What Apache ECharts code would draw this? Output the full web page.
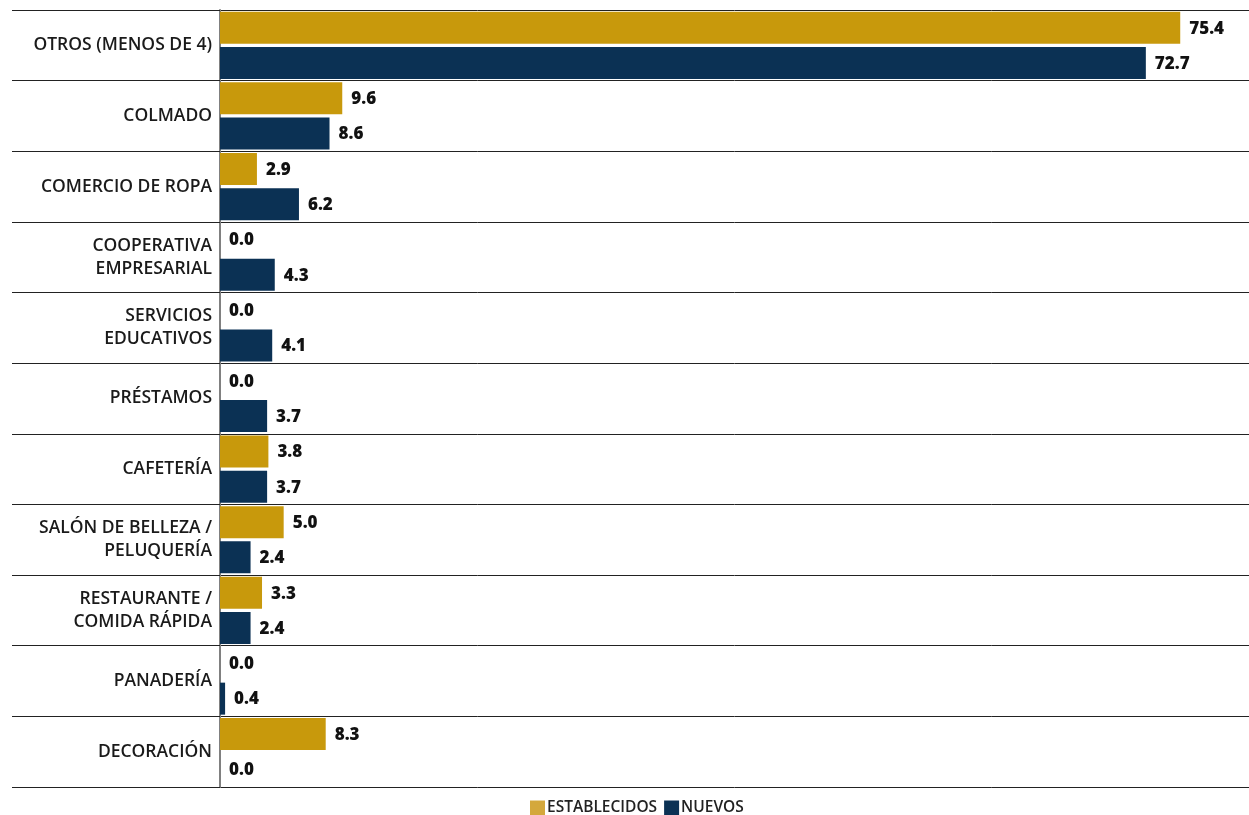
<!DOCTYPE html>
<html>
<head>
<meta charset="utf-8">
<script src="https://cdn.jsdelivr.net/npm/echarts@6/dist/echarts.min.js"></script>
<style>
  html, body { margin: 0; padding: 0; background: #fff; }
  #main { width: 1249px; height: 815px; }
</style>
</head>
<body>
<div id="main"></div>
<script>
// categorías (de arriba hacia abajo)
const categorias = [
  'OTROS (MENOS DE 4)',
  'COLMADO',
  'COMERCIO DE ROPA',
  'COOPERATIVA\nEMPRESARIAL',
  'SERVICIOS\nEDUCATIVOS',
  'PRÉSTAMOS',
  'CAFETERÍA',
  'SALÓN DE BELLEZA /\nPELUQUERÍA',
  'RESTAURANTE /\nCOMIDA RÁPIDA',
  'PANADERÍA',
  'DECORACIÓN'
];
// valores por serie
const establecidos = [75.4, 9.6, 2.9, 0.0, 0.0, 0.0, 3.8, 5.0, 3.3, 0.0, 8.3];
const nuevos = [72.7, 8.6, 6.2, 4.3, 4.1, 3.7, 3.7, 2.4, 2.4, 0.4, 0.0];

const oro = '#C8990C';
const azul = '#0B3154';

let myChart = echarts.init(document.getElementById('main'));

function etiqueta() {
  return {
    show: true,
    position: 'right',
    distance: 9,
    offset: [0, 1],
    color: '#111',
    fontFamily: 'Open Sans',
    fontWeight: 800,
    fontSize: 17,
    formatter: p => Number(p.value).toFixed(1)
  };
}

let option = {
  animation: false,
  grid: { left: 220, right: 0, top: 10, bottom: 28 },
  legend: {
    top: 800,
    left: 530,
    padding: 0,
    itemWidth: 15,
    itemHeight: 15,
    itemGap: 7,
    icon: 'rect',
    textStyle: { fontFamily: 'Open Sans', fontSize: 15.5, fontWeight: 600, color: '#222', padding: [0, 0, 0, -3] },
    data: [
      { name: 'ESTABLECIDOS', itemStyle: { color: '#D4A83C' } },
      { name: 'NUEVOS', itemStyle: { color: azul } }
    ]
  },
  xAxis: {
    type: 'value',
    min: 0,
    max: 80.8,
    show: false
  },
  yAxis: {
    type: 'category',
    inverse: true,
    data: categorias,
    axisLine: { show: true, lineStyle: { color: '#808080', width: 2 } },
    axisTick: { show: true, length: 208, lineStyle: { color: '#222', width: 1 } },
    splitLine: { show: true, lineStyle: { color: '#222', width: 1 } },
    axisLabel: {
      margin: 8,
      fontFamily: 'Open Sans',
      fontSize: 17.5,
      fontWeight: 600,
      color: '#1a1a1a',
      lineHeight: 23,
      align: 'right'
    }
  },
  series: [
    {
      name: 'ESTABLECIDOS',
      type: 'bar',
      data: establecidos,
      barWidth: 32,
      barGap: '10%',
      itemStyle: { color: oro },
      label: etiqueta()
    },
    {
      name: 'NUEVOS',
      type: 'bar',
      data: nuevos,
      barWidth: 32,
      barGap: '10%',
      itemStyle: { color: azul },
      label: etiqueta()
    }
  ]
};

myChart.setOption(option);
</script>
</body>
</html>
